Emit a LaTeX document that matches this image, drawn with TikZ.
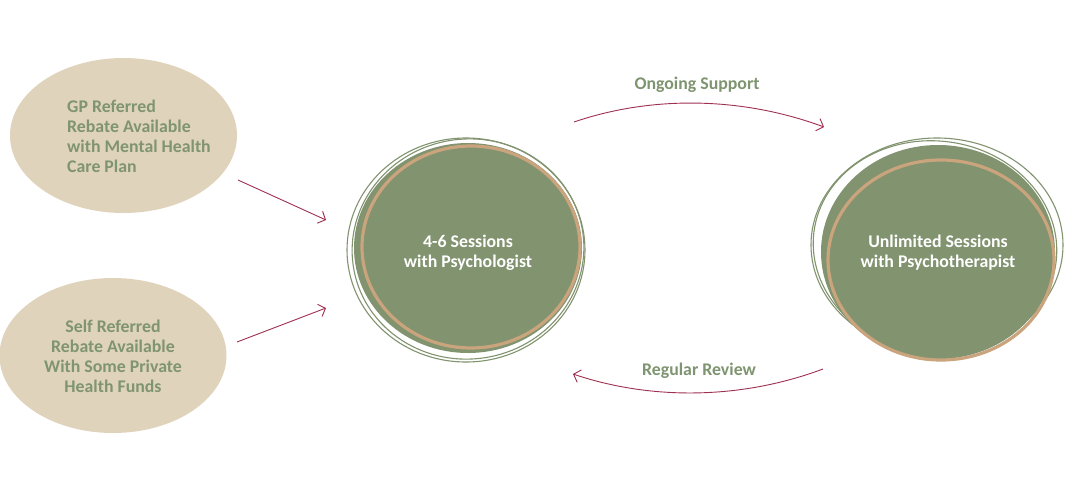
\documentclass[tikz,border=0pt]{standalone}
\usepackage{fontspec}
\setmainfont{Carlito}
\usetikzlibrary{shapes.geometric,arrows.meta}
\definecolor{tanfill}{HTML}{DFD3BB}
\definecolor{greentext}{HTML}{7F9470}
\definecolor{greenfill}{HTML}{82936F}
\definecolor{tanring}{HTML}{C9A47D}
\definecolor{arrowred}{HTML}{9E3050}
\tikzset{
  refbox/.style={ellipse, fill=tanfill, inner sep=0pt},
  reftext/.style={text=greentext, font=\bfseries\fontsize{17.8}{20}\selectfont, inner sep=0pt},
  sessbox/.style={ellipse, fill=greenfill, inner sep=0pt, text=white, align=center, font=\bfseries\fontsize{17.8}{20}\selectfont},
  ring/.style={draw=tanring, line width=3.2pt},
  thinline/.style={draw=greenfill, line width=1.1pt},
  flow/.style={draw=arrowred, line width=0.9pt, -{Straight Barb[length=6pt,width=13pt,line width=0.9pt]}},
  lbl/.style={text=greentext, font=\bfseries\fontsize{17.8}{20}\selectfont, inner sep=0pt}
}
\begin{document}
\begin{tikzpicture}[x=1pt,y=-1pt]
\useasboundingbox[fill=white] (0,0) rectangle (1066,496);
% referral ellipses
\node[refbox, minimum width=227, minimum height=155] (gp) at (123.5,135.5) {};
\node[reftext, align=left, anchor=west] (gpt) at (67,136) {GP Referred\\Rebate Available\\with Mental Health\\Care Plan};
\node[refbox, minimum width=227, minimum height=155] (self) at (113,355.5) {};
\node[reftext, align=center] (selft) at (113,356) {Self Referred\\Rebate Available\\With Some Private\\Health Funds};
% psychologist circle
\draw[thinline] (466,250) ellipse[x radius=119, y radius=112];
\draw[thinline, rotate around={8:(468,249)}] (468,249) ellipse[x radius=116, y radius=110];
\node[sessbox, minimum width=228, minimum height=210] (psy) at (468,248) {};
\draw[ring] (471,247) ellipse[x radius=109, y radius=101];
\node[sessbox, fill=none] (psyt) at (468,253) {4-6 Sessions\\with Psychologist};
% psychotherapist circle
\draw[thinline] (937,245) ellipse[x radius=126, y radius=107];
\draw[thinline, rotate around={-7:(935,247)}] (935,247) ellipse[x radius=122, y radius=106];
\node[sessbox, minimum width=234, minimum height=214] (ther) at (938,252) {};
\draw[ring] (941,260) ellipse[x radius=113, y radius=100];
\node[sessbox, fill=none] (thert) at (938,253) {Unlimited Sessions\\with Psychotherapist};
% arrow end points
\coordinate (a1s) at (238,180);
\coordinate (a1e) at (326,220);
\coordinate (a2s) at (237,342);
\coordinate (a2e) at (326,308);
\coordinate (t1s) at (574,122);
\coordinate (t1e) at (824,127);
\coordinate (b1s) at (823,369);
\coordinate (b1e) at (573,374);
\draw[flow] (a1s) -- (a1e);
\draw[flow] (a2s) -- (a2e);
\draw[flow] (t1s) .. controls (650,96) and (740,96) .. (t1e);
\draw[flow] (b1s) .. controls (740,400) and (650,400) .. (b1e);
\node[lbl] (ongoing) at (697,85) {Ongoing Support};
\node[lbl] (review) at (699,371) {Regular Review};
\end{tikzpicture}
\end{document}
